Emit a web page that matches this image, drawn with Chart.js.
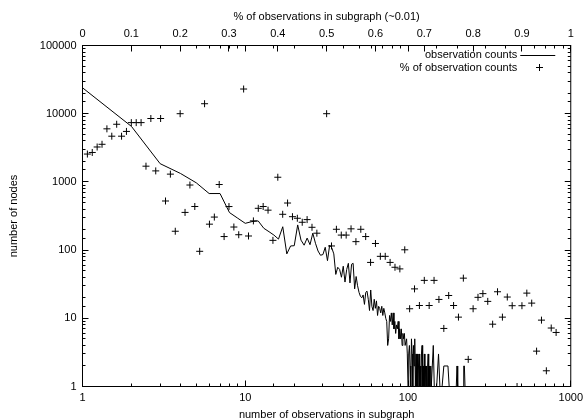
<!DOCTYPE html>
<html>
<head>
<meta charset="utf-8">
<script src="https://cdn.jsdelivr.net/npm/chart.js@4/dist/chart.umd.min.js"></script>
<style>
  html, body { margin: 0; padding: 0; background: #fff; }
  #wrap { width: 588px; height: 420px; position: relative; }
</style>
</head>
<body>
<div id="wrap"><canvas id="obsChart"></canvas></div>
<script>
// number of observations in subgraph (bottom log axis)
const obsN = [
  1, 2, 3, 4, 5, 6, 7, 8, 9, 10,
  11, 12, 13, 14, 15, 16, 17, 18, 19, 20,
  21, 22, 23, 24, 25, 26, 27, 28, 29, 30,
  31, 32, 33, 34, 35, 36, 37, 38, 39, 40,
  41, 42, 43, 44, 45, 46, 47, 48, 49, 50,
  51, 52, 53, 54, 55, 56, 57, 58, 59, 60,
  61, 62, 63, 64, 65, 66, 67, 68, 69, 70,
  71, 72, 73, 74, 75, 76, 77, 78, 79, 80,
  81, 82, 83, 84, 85, 86, 87, 88, 89, 90,
  91, 92, 93, 94, 95, 96, 97, 98, 99, 100,
  101, 102, 103, 104, 105, 106, 107, 108, 109, 110,
  111, 112, 113, 114, 115, 116, 117, 118, 119, 120,
  121, 122, 123, 124, 125, 126, 127, 128, 129, 130,
  131, 132, 133, 134, 135, 136, 137, 138, 139, 140,
  143, 145, 147, 150, 154, 157, 162, 166, 176, 179,
  198, 200, 202, 218, 220, 222, 224
];
// number of nodes for each observation count
const obsCounts = [
  24000, 6500, 1850, 1330, 970, 675, 675, 355, 293, 247,
  262, 268, 209, 186, 166, 145, 220, 88, 115, 116,
  234, 140, 118, 150, 120, 177, 126, 97, 84, 86,
  110, 70, 118, 108, 88, 44, 56, 52, 40, 58,
  34, 52, 64, 33, 62, 64, 27, 41, 30, 24,
  21, 20, 22, 16, 24, 25, 19, 13, 26, 15,
  13, 19, 14, 18, 11, 15, 14, 12, 15, 11,
  14, 12, 10, 9, 4, 5, 11, 9, 12, 8,
  12, 7, 9, 6, 8, 7, 9, 5, 7, 5,
  7, 4, 6, 5, 6, 4, 4, 5, 3, 1,
  3, 4, 2, 1, 5, 3, 1, 4, 2, 5,
  1, 3, 1, 3, 1, 2, 3, 1, 2, 1,
  3, 4, 1, 2, 1, 3, 1, 2, 1, 2,
  1, 2, 3, 1, 2, 1, 1, 2, 1, 1,
  4, 1, 1, 1, 3, 1, 1, 2, 2, 1,
  1, 2, 1, 1, 2, 2, 1
];

// % of observations in subgraph (top linear axis)
const pctX = [
  0.01, 0.02, 0.03, 0.04, 0.05, 0.06, 0.07, 0.08, 0.09, 0.10,
  0.11, 0.12, 0.13, 0.14, 0.15, 0.16, 0.17, 0.18, 0.19, 0.20,
  0.21, 0.22, 0.23, 0.24, 0.25, 0.26, 0.27, 0.28, 0.29, 0.30,
  0.31, 0.32, 0.33, 0.34, 0.35, 0.36, 0.37, 0.38, 0.39, 0.40,
  0.41, 0.42, 0.43, 0.44, 0.45, 0.46, 0.47, 0.48, 0.50,
  0.51, 0.52, 0.53, 0.54, 0.55, 0.56, 0.57, 0.58, 0.59, 0.60,
  0.61, 0.62, 0.63, 0.64, 0.65, 0.66, 0.67, 0.68, 0.69, 0.70,
  0.71, 0.72, 0.73, 0.74, 0.75, 0.76, 0.77, 0.78, 0.79, 0.80,
  0.81, 0.82, 0.83, 0.84, 0.85, 0.86, 0.87, 0.88, 0.89, 0.90,
  0.91, 0.92, 0.93, 0.94, 0.95, 0.96, 0.97
];
const pctCounts = [
  2560, 2700, 3250, 3560, 6000, 4680, 7000, 4680, 5500, 7400,
  7400, 7400, 1700, 8500, 1450, 8500, 525, 1300, 189, 10000,
  357, 900, 436, 96, 14000, 240, 305, 915, 158, 435,
  218, 168, 23000, 161, 268, 410, 436, 385, 139, 1170,
  335, 490, 309, 293, 256, 280, 216, 177, 10000,
  115, 202, 166, 166, 205, 133, 202, 158, 66, 125,
  81, 81, 66, 56, 53, 101, 13.8, 27, 15.4, 36,
  15.4, 36, 18.9, 7.1, 21.6, 15.4, 10.4, 38.8, 2.5, 13.8,
  20.3, 23, 17.7, 8.2, 24.5, 10.4, 20.5, 15.3, 1, 15.3,
  23.4, 16.7, 3.3, 9.4, 1.7, 7.2, 6.2
];

const FONT = '"Liberation Sans", Arial, Helvetica, sans-serif';
Chart.defaults.font.family = FONT;
Chart.defaults.font.size = 11;
Chart.defaults.color = '#000';

function isPow10(v) {
  const l = Math.log10(v);
  return Math.abs(l - Math.round(l)) < 1e-9;
}

// gnuplot style frame with inward tick marks (mirrored on opposite sides)
const frame = {
  id: 'frame',
  afterDraw(chart) {
    const { ctx, chartArea: a, scales } = chart;
    const crisp = (v) => Math.floor(v) + 0.5;
    ctx.save();
    ctx.strokeStyle = '#000';
    ctx.lineWidth = 1;
    ctx.beginPath();
    scales.x.ticks.forEach((t) => {
      const px = crisp(scales.x.getPixelForValue(t.value));
      const len = isPow10(t.value) ? 6 : 3;
      ctx.moveTo(px, a.bottom); ctx.lineTo(px, a.bottom - len);
      ctx.moveTo(px, a.top); ctx.lineTo(px, a.top + len);
    });
    scales.y.ticks.forEach((t) => {
      const py = crisp(scales.y.getPixelForValue(t.value));
      const len = isPow10(t.value) ? 6 : 3;
      ctx.moveTo(a.left, py); ctx.lineTo(a.left + len, py);
      ctx.moveTo(a.right, py); ctx.lineTo(a.right - len, py);
    });
    scales.x2.ticks.forEach((t) => {
      const px = crisp(scales.x2.getPixelForValue(t.value));
      ctx.moveTo(px, a.top); ctx.lineTo(px, a.top + 6);
    });
    ctx.stroke();
    ctx.strokeRect(a.left, a.top, a.right - a.left, a.bottom - a.top);
    ctx.restore();
  }
};

// key in the top right corner, text right aligned with sample after it
const key = {
  id: 'key',
  afterDraw(chart) {
    const { ctx, chartArea: a } = chart;
    ctx.save();
    ctx.font = '11px ' + FONT;
    ctx.fillStyle = '#000';
    ctx.strokeStyle = '#000';
    ctx.lineWidth = 1;
    ctx.textAlign = 'right';
    ctx.textBaseline = 'middle';
    chart.data.datasets.forEach((d, i) => {
      const y = a.top + 9.5 + i * 12.5;
      ctx.fillText(d.label, a.right - 53.5, y);
      ctx.beginPath();
      if (d.showLine) {
        ctx.moveTo(a.right - 50.5, Math.floor(y) + 0.5);
        ctx.lineTo(a.right - 15.5, Math.floor(y) + 0.5);
      } else {
        const cx = Math.floor(a.right - 31) + 0.5, cy = Math.floor(y) + 0.5;
        ctx.moveTo(cx - 3.5, cy); ctx.lineTo(cx + 3.5, cy);
        ctx.moveTo(cx, cy - 3.5); ctx.lineTo(cx, cy + 3.5);
      }
      ctx.stroke();
    });
    ctx.restore();
  }
};

const ctx = document.getElementById('obsChart').getContext('2d');
new Chart(ctx, {
  type: 'scatter',
  data: {
    datasets: [
      {
        label: 'observation counts',
        data: obsN.map((n, i) => ({ x: n, y: obsCounts[i] })),
        xAxisID: 'x',
        yAxisID: 'y',
        showLine: true,
        borderColor: '#000',
        borderWidth: 1,
        pointRadius: 0,
        tension: 0,
      },
      {
        label: '% of observation counts',
        data: pctX.map((p, i) => ({ x: p, y: pctCounts[i] })),
        xAxisID: 'x2',
        yAxisID: 'y',
        pointStyle: 'cross',
        pointRadius: 3.5,
        borderColor: '#000',
        backgroundColor: '#000',
        borderWidth: 1,
      },
    ],
  },
  options: {
    responsive: true,
    maintainAspectRatio: false,
    animation: false,
    events: [],
    layout: { padding: { left: 0, right: 14.5, top: 0, bottom: 0 } },
    plugins: {
      legend: { display: false },
      tooltip: { enabled: false },
    },
    scales: {
      x: {
        type: 'logarithmic',
        position: 'bottom',
        min: 1,
        max: 1000,
        grid: { display: false, drawTicks: false },
        border: { display: false },
        ticks: {
          autoSkip: false,
          maxRotation: 0,
          padding: 5,
          callback: (v) => (isPow10(v) ? String(v) : ''),
        },
        title: {
          display: true,
          text: 'number of observations in subgraph',
          font: { size: 11, lineHeight: 1 },
          padding: { top: 0, bottom: 0 },
        },
        afterFit: (s) => { s.height = 33.5; },
      },
      x2: {
        type: 'linear',
        position: 'top',
        min: 0,
        max: 1,
        grid: { display: false, drawTicks: false },
        border: { display: false },
        ticks: {
          stepSize: 0.1,
          autoSkip: false,
          maxRotation: 0,
          padding: 5,
          callback: (v) => String(Math.round(v * 10) / 10),
        },
        title: {
          display: true,
          text: '% of observations in subgraph (~0.01)',
          font: { size: 11, lineHeight: 1 },
          padding: { top: 11, bottom: 0 },
        },
        afterFit: (s) => { s.height = 45.5; },
      },
      y: {
        type: 'logarithmic',
        position: 'left',
        min: 1,
        max: 100000,
        grid: { display: false, drawTicks: false },
        border: { display: false },
        ticks: {
          autoSkip: false,
          padding: 6,
          callback: (v) => (isPow10(v) ? String(v) : ''),
        },
        title: {
          display: true,
          text: 'number of nodes',
          font: { size: 11, lineHeight: 1 },
          padding: { top: 8.5, bottom: 0 },
        },
        afterFit: (s) => { s.width = 82.5; },
      },
    },
  },
  plugins: [frame, key],
});
</script>
</body>
</html>
